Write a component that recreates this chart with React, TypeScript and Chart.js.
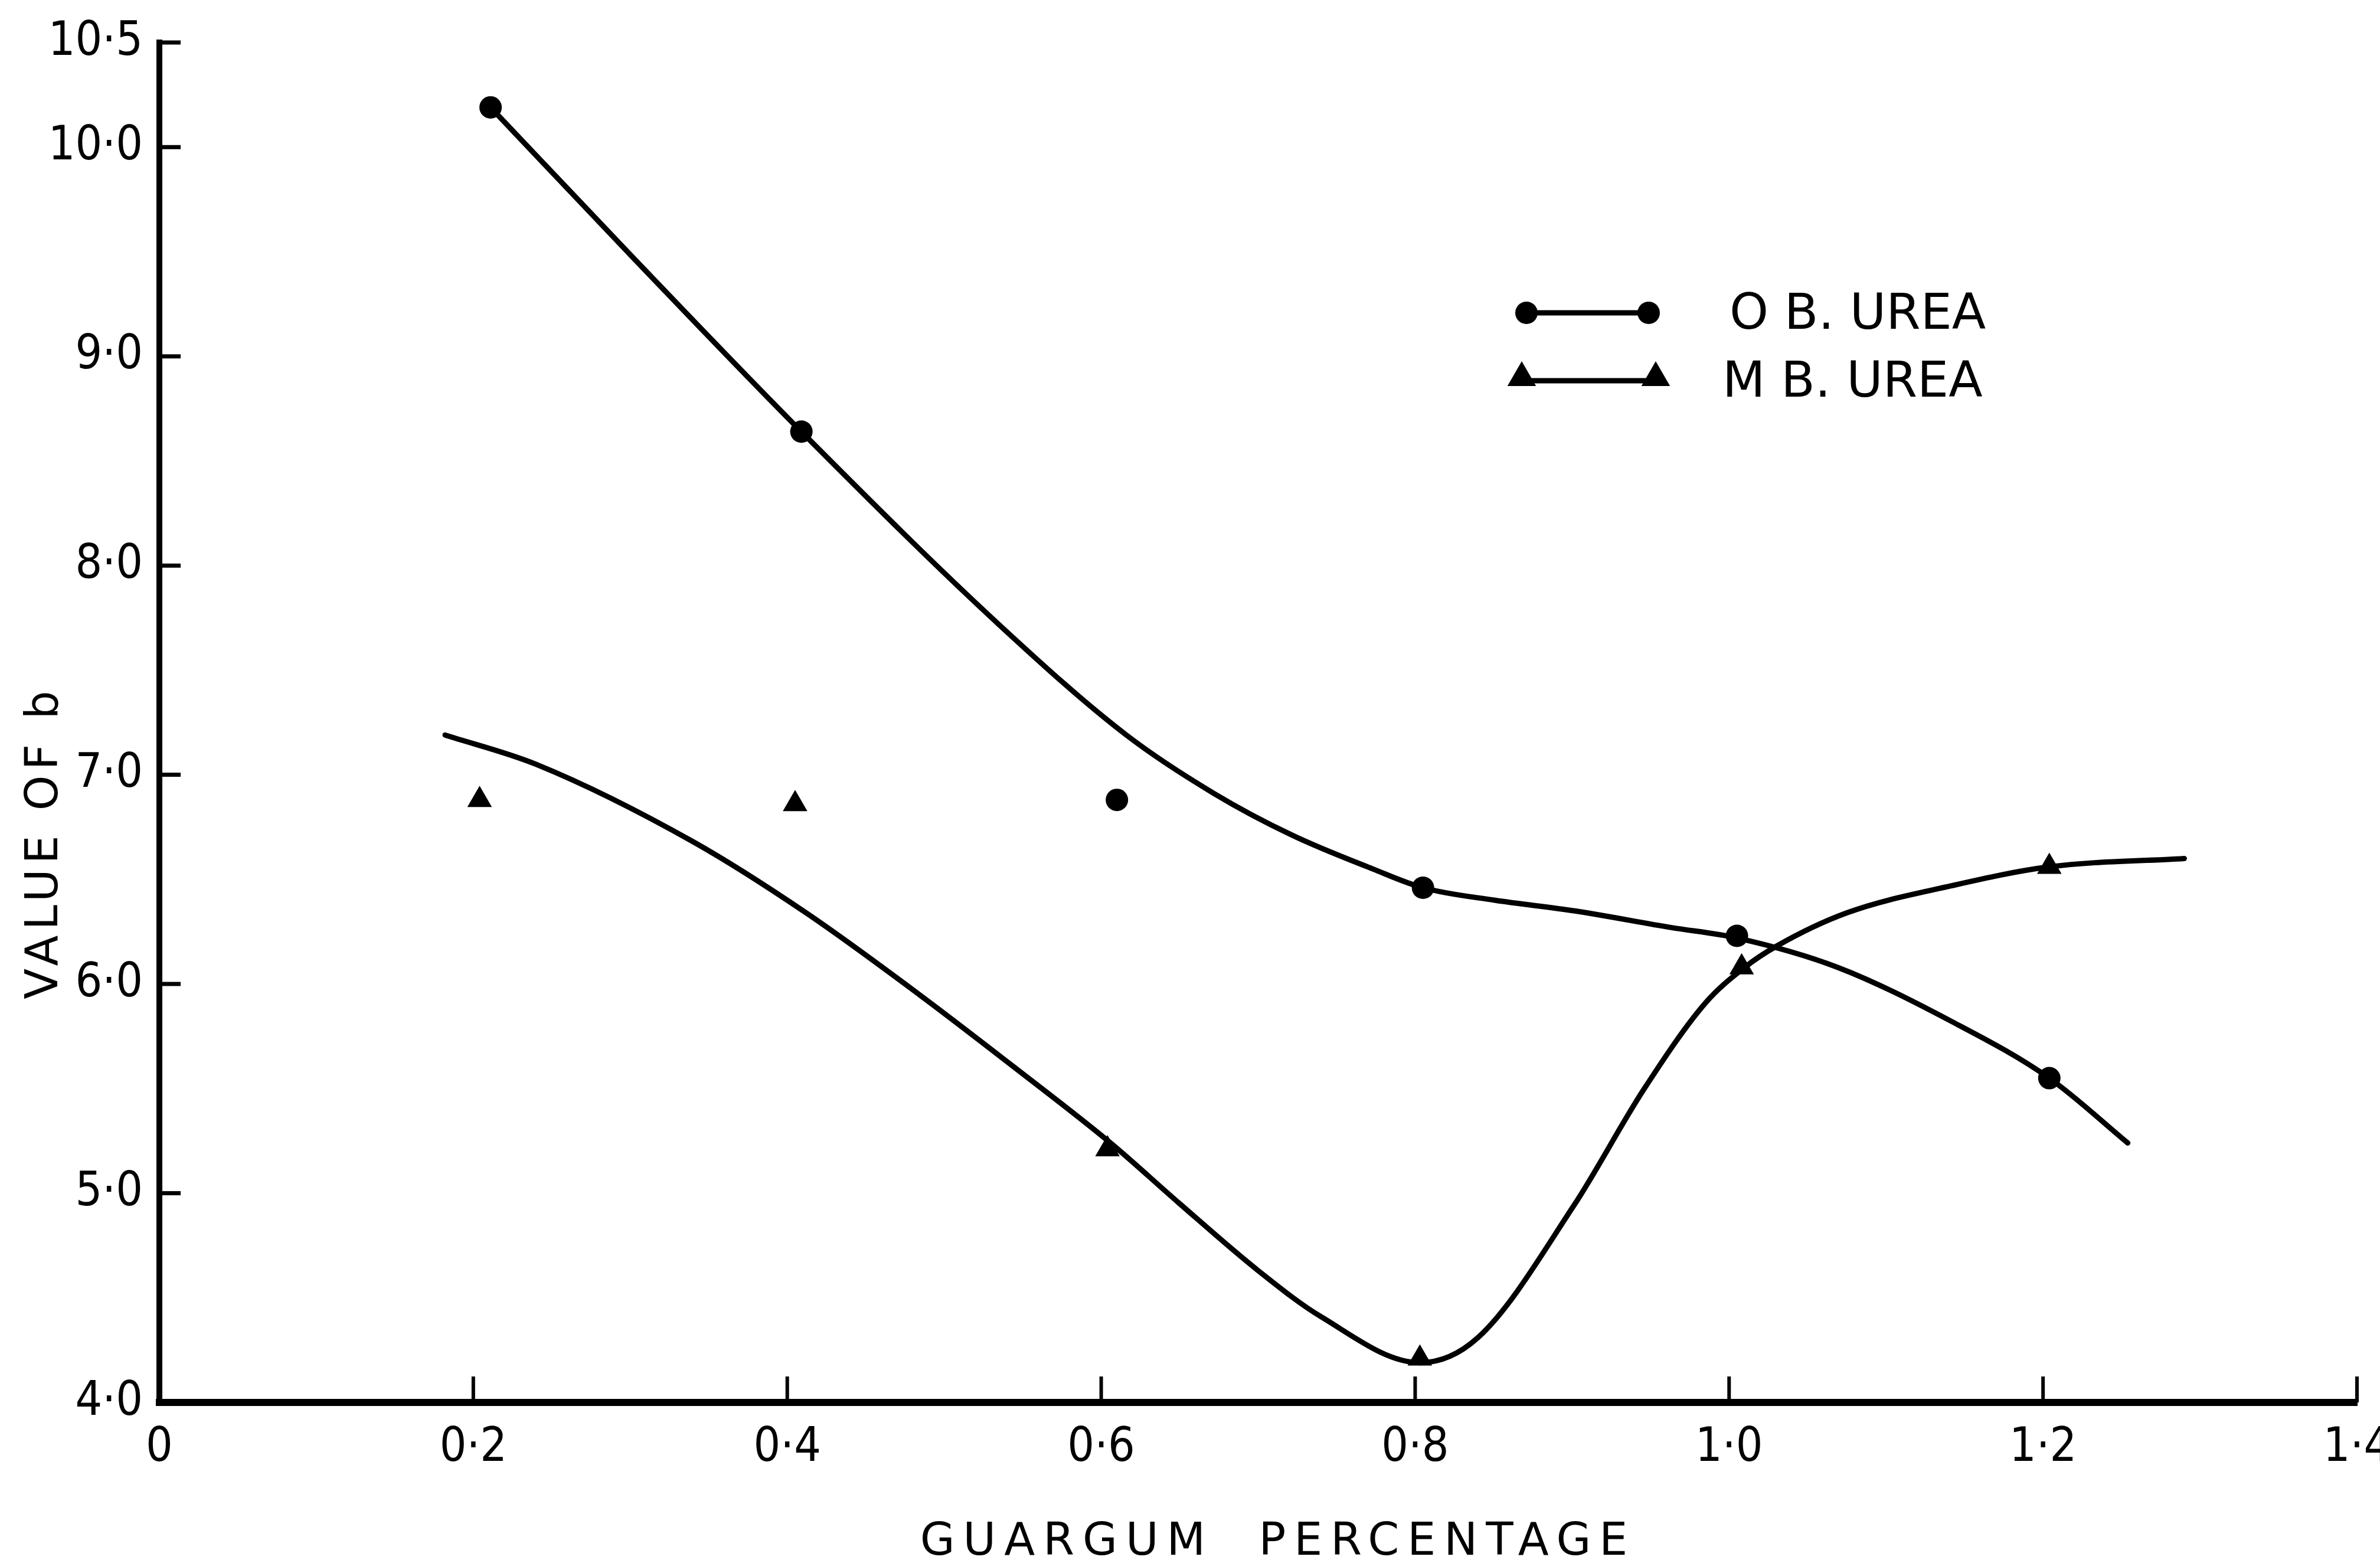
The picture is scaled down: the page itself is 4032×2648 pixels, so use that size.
import React, { useEffect, useRef } from "react";
import { Chart, registerables } from "chart.js";

Chart.register(...registerables);

// ---- axis ticks ----
const xTickValues = [0, 0.2, 0.4, 0.6, 0.8, 1.0, 1.2, 1.4];
const xTickLabels = ["0", "0·2", "0·4", "0·6", "0·8", "1·0", "1·2", "1·4"];
const yTickValues = [4, 5, 6, 7, 8, 9, 10, 10.5];
const yTickLabels = ["4·0", "5·0", "6·0", "7·0", "8·0", "9·0", "10·0", "10·5"];

const xTitle = "GUARGUM  PERCENTAGE";
const yTitle = "VALUE OF b";
const seriesNames = ["O B. UREA", "M B. UREA"];

// ---- O B. UREA measured points ----
const obPointX = [0.211, 0.409, 0.61, 0.805, 1.005, 1.204];
const obPointY = [10.19, 8.64, 6.88, 6.46, 6.23, 5.55];
// ---- O B. UREA hand-drawn curve ----
const obCurveX = [0.211, 0.302, 0.409, 0.536, 0.616, 0.672, 0.722, 0.773, 0.805, 0.851, 0.901, 0.963, 1.005, 1.069, 1.142, 1.204, 1.254];
const obCurveY = [10.19, 9.47, 8.64, 7.71, 7.19, 6.91, 6.71, 6.55, 6.46, 6.4, 6.35, 6.27, 6.22, 6.08, 5.82, 5.55, 5.24];

// ---- M B. UREA measured points ----
const mbPointX = [0.204, 0.405, 0.604, 0.803, 1.008, 1.204];
const mbPointY = [6.88, 6.86, 5.21, 4.21, 6.08, 6.56];
// ---- M B. UREA hand-drawn curve ----
const mbCurveX = [0.182, 0.24, 0.34, 0.412, 0.484, 0.545, 0.606, 0.65, 0.7, 0.74, 0.803, 0.84, 0.901, 0.946, 0.985, 1.01, 1.03, 1.075, 1.142, 1.204, 1.29];
const mbCurveY = [7.19, 7.05, 6.68, 6.34, 5.95, 5.6, 5.24, 4.95, 4.63, 4.41, 4.19, 4.31, 4.94, 5.5, 5.91, 6.08, 6.18, 6.34, 6.47, 6.56, 6.6];

const zip = (xs: number[], ys: number[]) => xs.map((x, i) => ({ x, y: ys[i] }));
const labelFor = (vals: number[], labs: string[], v: number) => {
  const i = vals.findIndex((t) => Math.abs(t - v) < 1e-6);
  return i >= 0 ? labs[i] : "";
};

const TICK_FONT = "'Liberation Sans Narrow', 'DejaVu Sans Condensed', sans-serif";
const TEXT_FONT = "'DejaVu Sans', sans-serif";

const decorPlugin = {
  id: "decor",
  afterDraw(chart: any) {
    const ctx = chart.ctx as CanvasRenderingContext2D;
    const xs = chart.scales.x;
    const ys = chart.scales.y;
    const area = chart.chartArea;
    ctx.save();
    ctx.strokeStyle = "#000";
    ctx.fillStyle = "#000";
    ctx.lineCap = "butt";
    // inward ticks on x axis
    ctx.lineWidth = 6;
    xTickValues.forEach((v) => {
      if (v === xs.min) return;
      const px = xs.getPixelForValue(v);
      ctx.beginPath();
      ctx.moveTo(px, area.bottom);
      ctx.lineTo(px, area.bottom - 44);
      ctx.stroke();
    });
    // inward ticks on y axis
    ctx.lineWidth = 7;
    yTickValues.forEach((v) => {
      if (v === ys.min) return;
      const py = ys.getPixelForValue(v);
      ctx.beginPath();
      ctx.moveTo(area.left, py);
      ctx.lineTo(area.left + 36, py);
      ctx.stroke();
    });

    // axis titles
    (ctx as any).letterSpacing = "14px";
    ctx.font = `76px ${TEXT_FONT}`;
    ctx.textAlign = "center";
    ctx.textBaseline = "middle";
    ctx.fillText(xTitle, 2165, 2614);
    ctx.save();
    (ctx as any).letterSpacing = "9px";
    ctx.translate(77, 1427);
    ctx.rotate(-Math.PI / 2);
    ctx.fillText(yTitle, 0, 0);
    ctx.restore();

    // legend
    (ctx as any).letterSpacing = "0px";
    ctx.font = `84px ${TEXT_FONT}`;
    ctx.textAlign = "left";
    ctx.lineWidth = 9;
    // row 1 : circles
    ctx.beginPath();
    ctx.moveTo(2586, 530);
    ctx.lineTo(2793, 530);
    ctx.stroke();
    [2586, 2793].forEach((cx) => {
      ctx.beginPath();
      ctx.arc(cx, 530, 19, 0, Math.PI * 2);
      ctx.fill();
    });
    ctx.fillText(seriesNames[0], 2930, 535);
    // row 2 : triangles
    ctx.beginPath();
    ctx.moveTo(2578, 645);
    ctx.lineTo(2805, 645);
    ctx.stroke();
    [2578, 2805].forEach((cx) => {
      const r = 28;
      ctx.beginPath();
      ctx.moveTo(cx, 640 - r);
      ctx.lineTo(cx + r * 0.866, 640 + r * 0.5);
      ctx.lineTo(cx - r * 0.866, 640 + r * 0.5);
      ctx.closePath();
      ctx.fill();
    });
    ctx.fillText(seriesNames[1], 2918, 650);
    ctx.restore();
  },
};

export default function App() {
  const ref = useRef<HTMLCanvasElement | null>(null);

  useEffect(() => {
    document.body.style.margin = "0";
    document.body.style.background = "#fff";
    const canvas = ref.current!;
    const chart = new Chart(canvas, {
      type: "scatter",
      data: {
        datasets: [
          {
            label: seriesNames[0] + " curve",
            data: zip(obCurveX, obCurveY),
            showLine: true,
            borderColor: "#000",
            borderWidth: 9,
            pointRadius: 0,
            cubicInterpolationMode: "monotone",
            borderCapStyle: "round",
            borderJoinStyle: "round",
          },
          {
            label: seriesNames[1] + " curve",
            data: zip(mbCurveX, mbCurveY),
            showLine: true,
            borderColor: "#000",
            borderWidth: 9,
            pointRadius: 0,
            cubicInterpolationMode: "monotone",
            borderCapStyle: "round",
            borderJoinStyle: "round",
          },
          {
            label: seriesNames[0],
            data: zip(obPointX, obPointY),
            showLine: false,
            pointStyle: "circle",
            pointRadius: 19,
            backgroundColor: "#000",
            borderColor: "#000",
            borderWidth: 0,
          },
          {
            label: seriesNames[1],
            data: zip(mbPointX, mbPointY),
            showLine: false,
            pointStyle: "triangle",
            pointRadius: 24,
            backgroundColor: "#000",
            borderColor: "#000",
            borderWidth: 0,
          },
        ],
      } as any,
      options: {
        responsive: false,
        animation: false,
        devicePixelRatio: 1,
        layout: { padding: { left: 0, right: 39, top: 72, bottom: 0 } },
        plugins: {
          legend: { display: false },
          tooltip: { enabled: false },
        },
        scales: {
          x: {
            type: "linear",
            min: 0,
            max: 1.4,
            grid: { display: false, drawTicks: false },
            border: { display: true, color: "#000", width: 12 },
            ticks: {
              color: "#000",
              padding: 30,
              autoSkip: false,
              maxRotation: 0,
              font: { family: TICK_FONT, size: 80 },
              callback: (v: any) => labelFor(xTickValues, xTickLabels, Number(v)),
            },
            afterBuildTicks: (s: any) => {
              s.ticks = xTickValues.map((v) => ({ value: v }));
            },
            afterFit: (s: any) => {
              s.height = 272;
              s.paddingLeft = 0;
              s.paddingRight = 0;
            },
          },
          y: {
            type: "linear",
            min: 4,
            max: 10.5,
            grid: { display: false, drawTicks: false },
            border: { display: true, color: "#000", width: 10 },
            ticks: {
              color: "#000",
              padding: 28,
              autoSkip: false,
              font: { family: TICK_FONT, size: 80 },
              callback: (v: any) => labelFor(yTickValues, yTickLabels, Number(v)),
            },
            afterBuildTicks: (s: any) => {
              s.ticks = yTickValues.map((v) => ({ value: v }));
            },
            afterFit: (s: any) => {
              s.width = 270;
              s.paddingTop = 0;
              s.paddingBottom = 0;
            },
          },
        },
      } as any,
      plugins: [decorPlugin],
    });
    return () => chart.destroy();
  }, []);

  return (
    <div style={{ position: "fixed", left: 0, top: 0, width: 4032, height: 2648, background: "#fff" }}>
      <canvas ref={ref} width={4032} height={2648} style={{ width: 4032, height: 2648, display: "block" }} />
    </div>
  );
}
